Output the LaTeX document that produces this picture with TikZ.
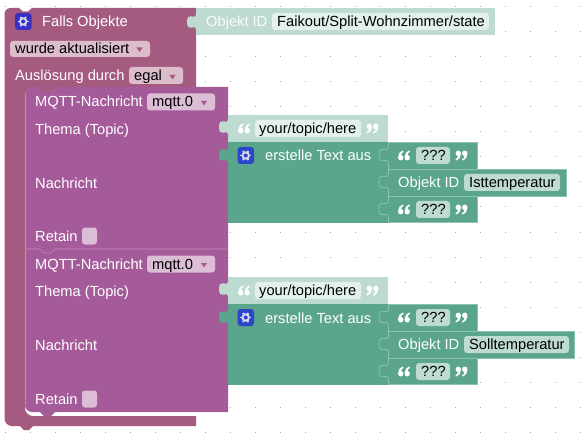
\documentclass[tikz,border=0pt]{standalone}
\usepackage{fontspec}
\setmainfont{Liberation Sans}
\definecolor{hatcol}{HTML}{A55B80}
\definecolor{hatfld}{HTML}{DBBDCC}
\definecolor{mqttcol}{HTML}{A55B99}
\definecolor{mqttfld}{HTML}{DBBDD6}
\definecolor{mqttlin}{HTML}{C08DB8}
\definecolor{textcol}{HTML}{5BA58C}
\definecolor{textlin}{HTML}{8CC3B0}
\definecolor{paletxt}{HTML}{BEDBD1}
\definecolor{palefld}{HTML}{E3F0EB}
\definecolor{gridcol}{HTML}{ABABAB}
\definecolor{iconone}{HTML}{3B30C4}
\definecolor{icontwo}{HTML}{2B46C8}
\definecolor{gearcol}{HTML}{D5D8F5}
\tikzset{
  lbl/.style={anchor=base west,inner sep=0pt,text=white,font=\fontsize{14.67}{16}\selectfont},
  val/.style={lbl,text=black}
}
\newcommand{\puzzletab}[3]{\fill[#3,shift={(#1,#2)}] (0,0) .. controls (0,5.6) and (-9,-4.5) .. (-9,7) .. controls (-9,18.5) and (0,8.4) .. (0,14) -- (1,14) -- (1,0) -- cycle;}
\newcommand{\gearicon}[3]{
  \fill[#3,rounded corners=3pt] (#1,#2) rectangle +(16.5,17);
  \draw[gearcol,line width=1.9pt] (#1+8.2,#2+8.5) circle (3.2);
  \foreach \a in {0,60,...,300} { \draw[gearcol,line width=1.8pt] (#1+8.2,#2+8.5) ++(\a:3.6) -- ++(\a:1.7); }
}
\newcommand{\ddarrow}[3]{\fill[#3] (#1-3,#2-2) -- (#1+3,#2-2) -- (#1,#2+2.5) -- cycle;}
\newcommand{\quotemark}[3]{
  \foreach \dx in {-6,0.5} {
    \begin{scope}[shift={(#1,#2)},xscale=#3,yscale=#3]
      \fill[white] (\dx,1.8) .. controls (\dx,-1.5) and (\dx+2,-4) .. (\dx+5.2,-5) -- (\dx+5.5,-3.8) .. controls (\dx+4,-3) and (\dx+3.2,-1.8) .. (\dx+3,-0.6) .. controls (\dx+4.6,-0.4) and (\dx+5.4,0.8) .. (\dx+5.4,2) .. controls (\dx+5.4,3.6) and (\dx+4.2,5) .. (\dx+2.7,5) .. controls (\dx+1,5) and (\dx,3.6) .. (\dx,1.8) -- cycle;
    \end{scope}
  }
}
\begin{document}
\begin{tikzpicture}[x=1pt,y=-1pt]
  \useasboundingbox (0,0) rectangle (588,438);
  \fill[white] (0,0) rectangle (588,438);
  \foreach \x in {5,30,...,580} { \foreach \y in {7,32,...,432} { \fill[gridcol] (\x-.5,\y-.5) rectangle (\x+.5,\y+.5); } }
  % outer block
  \fill[hatcol] (4.5,14) arc (180:270:6) -- (19,8) -- (23,11.5) -- (28,11.5) -- (32,8) -- (196,8) -- (196,87) -- (60,87) -- (60,93) -- (25,93) -- (25,408) .. controls (25,412.5) and (28.5,416) .. (33,416) -- (196,416) -- (196,426) -- (33,426) -- (29,430) -- (24,430) -- (20,426) -- (12,426) arc (90:180:7.5) -- cycle;
  \gearicon{15}{13}{iconone}
  \node[lbl] (falls) at (42,27) {Falls Objekte};
  \fill[hatfld,rounded corners=3pt] (10,41) rectangle (150,57);
  \node[val] (wurde) at (15,54) {wurde aktualisiert};
  \ddarrow{139.5}{49.5}{hatcol}
  \node[lbl] (ausl) at (15,81) {Auslösung durch};
  \fill[hatfld,rounded corners=3pt] (129,67) rectangle (183,84);
  \node[val] (egal) at (134,81) {egal};
  \ddarrow{172.5}{77}{hatcol}
  % object id head
  \fill[paletxt] (196,8) rectangle (495,35);
  \puzzletab{196}{15}{paletxt}
  \node[lbl,text=white!92!paletxt] (headid) at (206,27) {Objekt ID};
  \fill[palefld,rounded corners=3pt] (272,13) rectangle (489,30);
  \node[val] (headval) at (277,27) {Faikout/Split-Wohnzimmer/state};
  % mqtt block
  \fill[mqttcol] (25,93) arc (180:270:6) -- (40,87) -- (44,91) -- (51,91) -- (55,87) -- (228,87) -- (228,412) -- (55,412) -- (51,416) -- (44,416) -- (40,412) -- (32,412) arc (90:180:7) -- cycle;
  \draw[mqttlin,line width=.7pt] (25,249) -- (40,249) -- (44,253) -- (51,253) -- (55,249) -- (228,249);
  \draw[mqttlin,line width=.5pt] (25,93) -- (25,405);
  \foreach \yo/\ym/\yr/\nm/\idval/\idr/\blk in {0/102/236/a/Isttemperatur/566/560,162/264/399/b/Solltemperatur/574/569} {
    \node[lbl] (mqtt\nm) at (35,\ym+5) {MQTT-Nachricht};
    \fill[mqttfld,rounded corners=3pt] (147,\ym-8.5) rectangle (215,\ym+8.5);
    \node[val] (broker\nm) at (152,\ym+5) {mqtt.0};
    \ddarrow{204}{\ym+1}{mqttcol}
    \node[lbl] (thema\nm) at (35,\ym+32.5) {Thema (Topic)};
    \node[lbl] (nachr\nm) at (35,\ym+86.5) {Nachricht};
    \node[lbl] (retain\nm) at (35,\yr+5) {Retain};
    \fill[mqttfld,rounded corners=3pt] (82,\yr-8.5) rectangle (97,\yr+8.5);
    % topic text
    \fill[paletxt] (228,115+\yo) rectangle (388,142+\yo);
    \puzzletab{228}{120+\yo}{paletxt}
    \quotemark{244}{128.5+\yo}{1}
    \fill[palefld,rounded corners=3pt] (255,120+\yo) rectangle (361,137+\yo);
    \node[val] (topic\nm) at (259,133.5+\yo) {your/topic/here};
    \quotemark{372.5}{128.5+\yo}{-1}
    % erstelle text
    \fill[textcol] (228,142+\yo) rectangle (388,222.5+\yo);
    \puzzletab{228}{148+\yo}{textcol}
    \gearicon{237.5}{147+\yo}{icontwo}
    \node[lbl] (erst\nm) at (265,161+\yo) {erstelle Text aus};
    \draw[textlin,line width=.7pt,fill=textcol] (388,142+\yo) rectangle (477,169+\yo);
    \draw[textlin,line width=.7pt,fill=textcol] (388,169+\yo) rectangle (\idr,196+\yo);
    \draw[textlin,line width=.7pt,fill=textcol] (388,196+\yo) rectangle (477,222.5+\yo);
    \foreach \t in {148,175,202} {
      \fill[textcol] (387.5,\t+\yo) rectangle (390,\t+\yo+14);
      \puzzletab{388}{\t+\yo}{textcol}
      \draw[textlin,line width=.7pt,shift={(388,\t+\yo)}] (0,0) .. controls (0,5.6) and (-9,-4.5) .. (-9,7) .. controls (-9,18.5) and (0,8.4) .. (0,14);
    }
    \foreach \r/\t in {147/c,201/d} {
      \quotemark{404}{\r+8.5+\yo}{1}
      \fill[paletxt,rounded corners=3pt] (416,\r+\yo) rectangle (450,\r+17+\yo);
      \node[val] (q\t\nm) at (421,\r+13.5+\yo) {???};
      \quotemark{461.5}{\r+8.5+\yo}{-1}
    }
    \node[lbl] (oid\nm) at (398,187.5+\yo) {Objekt ID};
    \fill[paletxt,rounded corners=3pt] (464,174+\yo) rectangle (\blk,191+\yo);
    \node[val] (oval\nm) at (469,187.5+\yo) {\idval};
  }
\end{tikzpicture}
\end{document}
